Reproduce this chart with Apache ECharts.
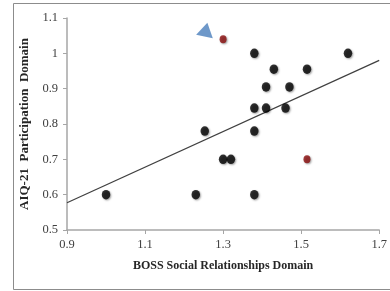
<!DOCTYPE html>
<html>
<head>
<meta charset="utf-8">
<title>BOSS vs AIQ-21</title>
<style>
  * { margin: 0; padding: 0; box-sizing: border-box; }
  body { background: #ffffff; width: 390px; height: 291px; overflow: hidden; }
  #chart { width: 390px; height: 291px; }
</style>
<script src="https://cdn.jsdelivr.net/npm/echarts@6/dist/echarts.min.js"></script>
</head>
<body>
<div id="chart"></div>
<script>
// BOSS Social Relationships Domain (x) vs AIQ-21 Participation Domain (y)
const bossScores = [1.38, 1.62, 1.43, 1.515, 1.41, 1.47, 1.38, 1.41, 1.46, 1.253, 1.38, 1.30, 1.32, 1.00, 1.23, 1.38];
const aiqScores  = [1.00, 1.00, 0.955, 0.955, 0.905, 0.905, 0.845, 0.845, 0.845, 0.78, 0.78, 0.70, 0.70, 0.60, 0.60, 0.60];

// highlighted (red) cases
const outlierBoss = [1.30, 1.515];
const outlierAiq  = [1.04, 0.70];

// linear trend line end points
const trendBoss = [0.9, 1.7];
const trendAiq  = [0.577, 0.98];

// arrow marker pointing at the top outlier
const arrowAt = [1.256, 1.067];

const xTicks = { min: 0.9, max: 1.7, interval: 0.2 };
const yTicks = { min: 0.5, max: 1.1, interval: 0.1 };

const zip = (xs, ys) => xs.map((x, i) => [x, ys[i]]);

const dotShadow = {
  shadowBlur: 2,
  shadowColor: 'rgba(0,0,0,0.45)',
  shadowOffsetX: 1,
  shadowOffsetY: 1
};

const chart = echarts.init(document.getElementById('chart'));

chart.setOption({
  animation: false,
  backgroundColor: '#ffffff',
  grid: { left: 67, right: 7, top: 18, bottom: 61 },
  graphic: [{
    type: 'rect',
    shape: { x: 13.5, y: 3.5, width: 400, height: 286 },
    style: { fill: 'none', stroke: '#8c8c8c', lineWidth: 1 },
    silent: true
  }],
  xAxis: {
    type: 'value',
    min: xTicks.min,
    max: xTicks.max,
    interval: xTicks.interval,
    name: 'BOSS Social Relationships Domain',
    nameLocation: 'middle',
    nameGap: 30,
    nameTextStyle: { fontFamily: 'Liberation Serif', fontWeight: 'bold', fontSize: 12, color: '#262626' },
    axisLine: { lineStyle: { color: '#a6a6a6', width: 1.5 } },
    axisTick: { show: true, length: 4, lineStyle: { color: '#a6a6a6' } },
    axisLabel: {
      fontFamily: 'Liberation Serif', fontSize: 12.5, color: '#404040', margin: 8,
      formatter: v => String(+v.toFixed(1))
    },
    splitLine: { show: false }
  },
  yAxis: {
    type: 'value',
    min: yTicks.min,
    max: yTicks.max,
    interval: yTicks.interval,
    name: 'AIQ-21  Participation  Domain',
    nameLocation: 'middle',
    nameGap: 34,
    nameRotate: 90,
    nameTextStyle: { fontFamily: 'Liberation Serif', fontWeight: 'bold', fontSize: 13, color: '#262626' },
    axisLine: { show: true, lineStyle: { color: '#a6a6a6', width: 1.5 } },
    axisTick: { show: true, length: 4, lineStyle: { color: '#a6a6a6' } },
    axisLabel: {
      fontFamily: 'Liberation Serif', fontSize: 12.5, color: '#404040', margin: 9,
      formatter: v => String(+v.toFixed(1))
    },
    splitLine: { show: false }
  },
  series: [
    {
      type: 'line',
      data: zip(trendBoss, trendAiq),
      symbol: 'none',
      lineStyle: { color: '#404040', width: 1.2 },
      z: 2
    },
    {
      type: 'scatter',
      data: zip(bossScores, aiqScores),
      symbol: 'circle',
      symbolSize: [8.5, 9.5],
      itemStyle: Object.assign({ color: '#000000' }, dotShadow),
      z: 3
    },
    {
      type: 'scatter',
      data: zip(outlierBoss, outlierAiq),
      symbol: 'circle',
      symbolSize: [7, 8],
      itemStyle: Object.assign({ color: '#8b0d0d' }, dotShadow),
      z: 3
    },
    {
      type: 'scatter',
      data: [arrowAt],
      symbol: 'triangle',
      symbolSize: [17, 14],
      symbolRotate: -12,
      itemStyle: { color: '#4a7ebb' },
      z: 4
    }
  ]
});
</script>
</body>
</html>
